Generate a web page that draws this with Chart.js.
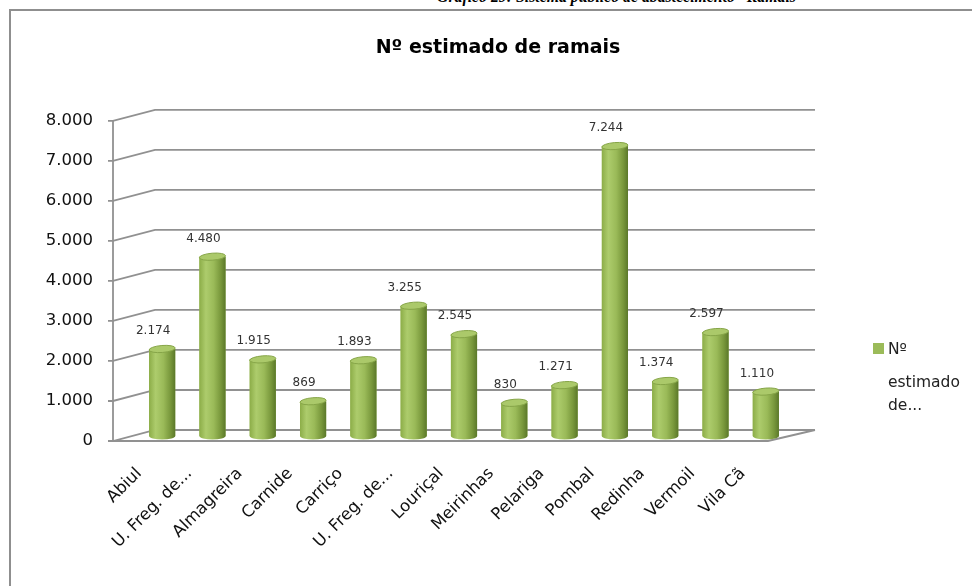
<!DOCTYPE html>
<html>
<head>
<meta charset="utf-8">
<script src="https://cdn.jsdelivr.net/npm/chart.js@4.4.1/dist/chart.umd.min.js"></script>
<style>
  html, body { margin: 0; padding: 0; background: #fff; overflow: hidden; }
  body { width: 972px; height: 586px; position: relative; }
  #legenda { position: absolute; left: 437px; top: -12px; font: italic bold 15.8px "Liberation Serif", serif; color: #000; white-space: nowrap; }
  #caixa { position: absolute; left: 9px; top: 9px; width: 980px; height: 600px; border-left: 2px solid #8f8f8f; border-top: 2px solid #8f8f8f; }
  #cv { position: absolute; left: 10px; top: 10px; }
</style>
</head>
<body>
<div id="legenda">Gráfico 29: Sistema público de abastecimento –Ramais</div>
<div id="caixa"></div>
<canvas id="cv" width="976" height="580"></canvas>
<script>
// dados do grafico
const freguesias = ["Abiul", "U. Freg. de...", "Almagreira", "Carnide", "Carriço", "U. Freg. de...", "Louriçal", "Meirinhas", "Pelariga", "Pombal", "Redinha", "Vermoil", "Vila Cã"];
const ramais = [2174, 4480, 1915, 869, 1893, 3255, 2545, 830, 1271, 7244, 1374, 2597, 1110];
const nomeSerie = "Nº estimado de ramais";
const legendaLinhas = ["Nº", "estimado", "de..."];
const eixoY = { min: 0, max: 8000, passo: 1000 };

const fonte = "'DejaVu Sans', sans-serif";

// formato 1.234 (separador de milhares com ponto)
function fmt(v) {
    return String(v).replace(/\B(?=(\d{3})+(?!\d))/g, ".");
}

// gradiente tipo cilindro
function gradiente(c, x0, x1) {
    const g = c.createLinearGradient(x0, 0, x1, 0);
    g.addColorStop(0, "#8cad48");
    g.addColorStop(0.25, "#adcc6c");
    g.addColorStop(0.55, "#9aba58");
    g.addColorStop(0.82, "#78973b");
    g.addColorStop(1, "#5b782a");
    return g;
}

// paredes e chao em perspetiva (usa a escala y)
const paredes3d = {
    id: "paredes3d",
    beforeDatasetsDraw(chart) {
        const c = chart.ctx;
        const y = chart.scales.y;
        const L = chart.chartArea.left, R = chart.chartArea.right;
        c.save();
        c.strokeStyle = "#919191";
        c.lineWidth = 1.8;
        for (let v = eixoY.min; v <= eixoY.max; v += eixoY.passo) {
            const py = y.getPixelForValue(v);
            c.beginPath();
            c.moveTo(L - 29, py + 5);
            c.lineTo(L - 24, py + 5);
            c.lineTo(L + 18, py - 6);
            c.lineTo(R + 24, py - 6);
            c.stroke();
        }
        const y0 = y.getPixelForValue(eixoY.min);
        const yTop = y.getPixelForValue(eixoY.max);
        c.beginPath();
        c.moveTo(L - 24, yTop + 5);
        c.lineTo(L - 24, y0 + 5);
        c.lineTo(R - 23, y0 + 5);
        c.lineTo(R + 24, y0 - 6);
        c.stroke();
        c.restore();
    },
    afterDatasetsDraw(chart) {
        const c = chart.ctx;
        const meta = chart.getDatasetMeta(0);
        c.save();
        meta.data.forEach((bar, i) => {
            const w = bar.width / 2;
            const g = gradiente(c, bar.x - w, bar.x + w);
            // corpo do cilindro
            c.fillStyle = g;
            c.fillRect(bar.x - w, bar.y, w * 2, bar.base - bar.y);
            // base arredondada
            c.beginPath();
            c.ellipse(bar.x, bar.base, w, 3.5, 0, 0, Math.PI);
            c.fill();
            // topo
            c.fillStyle = "#abc96a";
            c.strokeStyle = "#86a548";
            c.lineWidth = 1;
            c.beginPath();
            c.ellipse(bar.x, bar.y, w, 3.5, -0.08, 0, Math.PI * 2);
            c.fill();
            c.stroke();
            // rotulo do valor
            c.fillStyle = "#333";
            c.font = "12px " + fonte;
            c.textAlign = "center";
            c.textBaseline = "middle";
            c.fillText(fmt(ramais[i]), bar.x - 9, bar.y - 18);
        });
        c.restore();
    },
    afterDraw(chart) {
        // legenda com o texto partido em linhas
        const c = chart.ctx;
        c.save();
        c.fillStyle = chart.data.datasets[0].backgroundColor;
        c.fillRect(863, 333, 11, 11);
        c.fillStyle = "#222";
        c.font = "15.5px " + fonte;
        c.textAlign = "left";
        c.textBaseline = "alphabetic";
        const bases = [344, 377, 400];
        legendaLinhas.forEach((t, k) => c.fillText(t, 878, bases[k]));
        c.restore();
    }
};

new Chart(document.getElementById("cv"), {
    type: "bar",
    data: {
        labels: freguesias,
        datasets: [{
            label: nomeSerie,
            data: ramais,
            backgroundColor: "#9bbb59",
            borderWidth: 0,
            barPercentage: 0.52,
            categoryPercentage: 1
        }]
    },
    options: {
        responsive: false,
        animation: false,
        plugins: {
            legend: { display: false },
            tooltip: { enabled: false },
            title: {
                display: true,
                text: nomeSerie,
                color: "#000",
                font: { family: fonte, size: 19, weight: "bold" },
                padding: { top: 27, bottom: 56 }
            }
        },
        scales: {
            x: {
                grid: { display: false, drawTicks: false },
                border: { display: false },
                ticks: {
                    color: "#111",
                    font: { family: fonte, size: 16.5 },
                    maxRotation: 45,
                    minRotation: 45,
                    autoSkip: false,
                    padding: 28,
                    labelOffset: -23
                },
                afterFit(s) { s.height = 154; }
            },
            y: {
                min: eixoY.min,
                max: eixoY.max,
                grid: { display: false, drawTicks: false },
                border: { display: false },
                ticks: {
                    stepSize: eixoY.passo,
                    color: "#111",
                    font: { family: fonte, size: 16.5 },
                    padding: 44,
                    labelOffset: 5,
                    callback: v => fmt(v)
                },
                afterFit(s) { s.width = 127; }
            },
            // eixo vazio a direita so para reservar o espaco da legenda
            espacoLegenda: {
                type: "linear",
                position: "right",
                grid: { display: false, drawTicks: false },
                border: { display: false },
                ticks: { display: false },
                afterFit(s) { s.width = 195; }
            }
        }
    },
    plugins: [paredes3d]
});
</script>
</body>
</html>
